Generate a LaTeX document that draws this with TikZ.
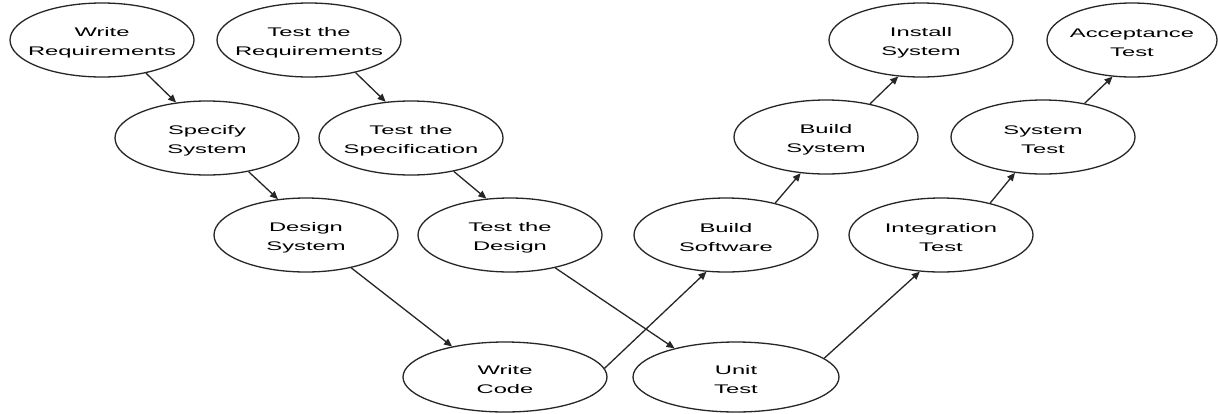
\documentclass[tikz,border=0pt]{standalone}
\usepackage{fontspec}
\newfontfamily\pixfont[FakeStretch=1.9]{Liberation Sans}
\usetikzlibrary{shapes.geometric,arrows.meta}
\newcommand{\lowr}{\rule{0pt}{15pt}}
\begin{document}
\begin{tikzpicture}[x=1pt,y=-1pt,
  stage/.style={ellipse, draw=black!85, line width=1.3pt, fill=white,
    inner xsep=-70pt, inner ysep=-16pt, minimum width=184pt, minimum height=74pt,
    align=center, font=\pixfont\fontsize{12.5}{19}\selectfont},
  flow/.style={-{Triangle[length=8pt,width=7pt]}, line width=1.3pt, draw=black!85}]
\useasboundingbox[fill=white] (0,0) rectangle (1218,413);
\node[stage] (wr) at (102,40) {\lowr Write\\Requirements};
\node[stage] (tr) at (309,40) {\lowr Test the\\Requirements};
\node[stage] (ss) at (207,138) {\lowr Specify\\System};
\node[stage] (tsp) at (411,138) {\lowr Test the\\Specification};
\node[stage] (ds) at (306,235) {\lowr Design\\System};
\node[stage] (td) at (510,235) {\lowr Test the\\Design};
\node[stage, minimum width=204pt, minimum height=70pt] (wc) at (505,377) {\lowr Write\\Code};
\node[stage, minimum width=206pt, minimum height=70pt] (ut) at (736,377) {\lowr Unit\\Test};
\node[stage] (bsw) at (726,235) {\lowr Build\\Software};
\node[stage] (bsy) at (826,137) {\lowr Build\\System};
\node[stage] (is) at (921,40) {\lowr Install\\System};
\node[stage] (it) at (941,235) {\lowr Integration\\Test};
\node[stage] (st) at (1043,137) {\lowr System\\Test};
\node[stage, minimum width=170pt] (at) at (1132,40) {\lowr Acceptance\\Test};
\draw[flow] (wr.-37) -- (ss.131);
\draw[flow] (tr.-35) -- (tsp.125);
\draw[flow] (ss.-39) -- (ds.128);
\draw[flow] (tsp.-38) -- (td.123);
\draw[flow] (ds.-36) -- (wc.150);
\draw[flow] (td.-36) -- (ut.155);
\draw[flow] (wc.5) -- (bsw.-118);
\draw[flow] (ut.12) -- (it.-120);
\draw[flow] (bsw.33) -- (bsy.-125);
\draw[flow] (bsy.37) -- (is.-122);
\draw[flow] (it.33) -- (st.-128);
\draw[flow] (st.39) -- (at.-118);
\end{tikzpicture}
\end{document}
